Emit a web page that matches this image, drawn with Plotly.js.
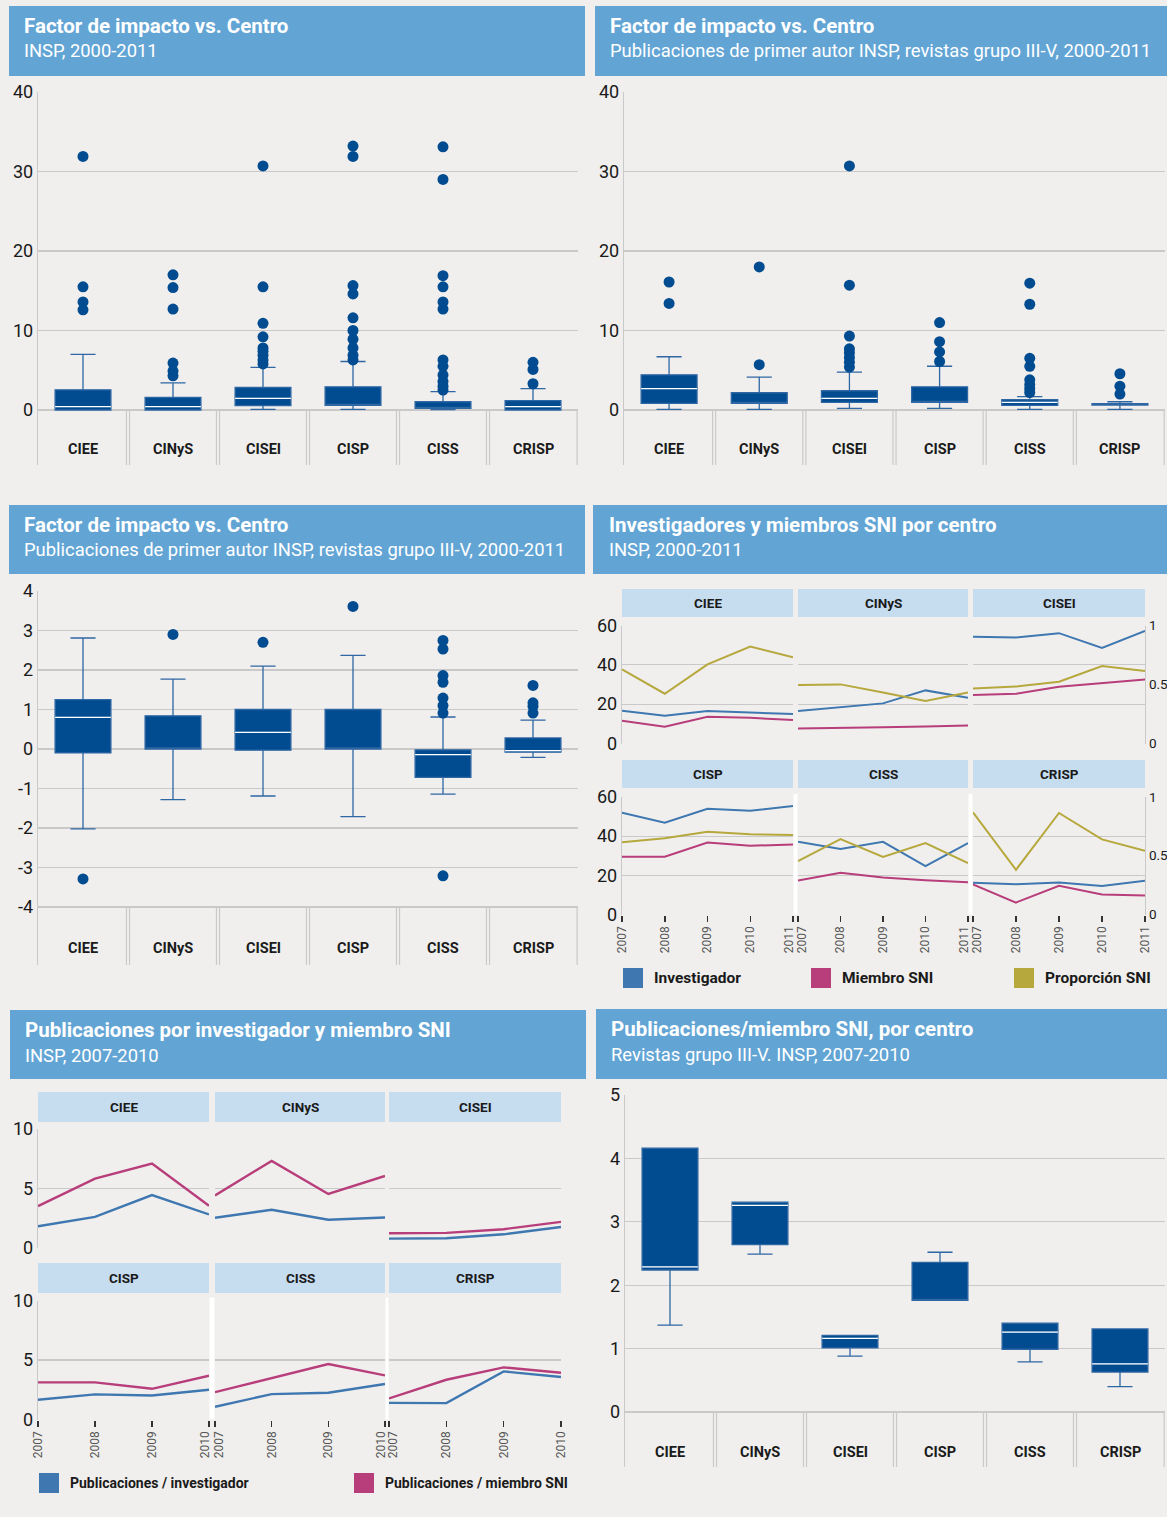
<!DOCTYPE html>
<html><head><meta charset="utf-8">
<script src="https://cdn.plot.ly/plotly-3.0.1.min.js"></script>
<style>html,body{margin:0;padding:0;background:#f0efed;} #chart{width:1167px;height:1517px;}</style>
</head><body><div id="chart"></div>
<script>
// ---------------- DATA ----------------
const centros = ['CIEE','CINyS','CISEI','CISP','CISS','CRISP'];

// Panel 1: Factor de impacto vs. Centro (INSP, 2000-2011)
const fi1_q1  = [0.0, 0.0, 0.54, 0.58, 0.2, 0.0];
const fi1_med = [0.42, 0.42, 1.46, 0.58, 0.2, 0.42];
const fi1_q3  = [2.54, 1.58, 2.83, 2.92, 1.04, 1.17];
const fi1_low = [0.0, 0.0, 0.08, 0.08, 0.05, 0.0];
const fi1_up  = [7.0, 3.4, 5.36, 6.1, 2.3, 2.7];
const fi1_out = [[31.9,15.5,13.6,12.6],[17.0,15.4,12.7,5.9,4.9,4.3],[30.7,15.5,10.9,9.2,7.8,7.4,6.9,6.3,5.8],[33.2,31.9,15.65,14.6,11.6,10.0,8.9,7.8,6.9,6.3],[33.1,29.0,16.9,15.5,13.6,12.7,6.3,5.5,4.4,3.6,3.0,2.5],[6.0,5.1,3.3]];

// Panel 2: Factor de impacto vs. Centro (primer autor, grupo III-V)
const fi2_q1  = [0.83, 0.83, 0.96, 0.96, 0.58, 0.62];
const fi2_med = [2.7, 0.83, 1.46, 0.96, 0.96, 0.62];
const fi2_q3  = [4.43, 2.17, 2.42, 2.92, 1.29, 0.8];
const fi2_low = [0.08, 0.08, 0.2, 0.2, 0.08, 0.08];
const fi2_up  = [6.7, 4.13, 4.77, 5.5, 1.67, 1.04];
const fi2_out = [[16.1,13.4],[18.0,5.7],[30.7,15.7,9.3,7.7,7.2,6.6,6.0,5.4],[11.0,8.6,7.3,6.1],[15.95,13.3,6.5,5.5,3.8,3.2,2.7,2.2],[4.56,3.0,2.0]];

// Panel 3: Factor de impacto (log) vs. Centro
const fi3_q1  = [-0.1, 0.0, -0.03, 0.0, -0.72, -0.08];
const fi3_med = [0.8, 0.0, 0.42, 0.0, -0.14, -0.04];
const fi3_q3  = [1.25, 0.84, 1.0, 1.0, -0.02, 0.28];
const fi3_low = [-2.02, -1.28, -1.19, -1.71, -1.14, -0.21];
const fi3_up  = [2.81, 1.77, 2.1, 2.37, 0.81, 0.73];
const fi3_out = [[-3.29],[2.9],[2.7],[3.61],[2.75,2.53,1.86,1.69,1.29,1.1,0.91,-3.21],[1.61,1.17,1.08,0.91]];

// Panel 6: Publicaciones/miembro SNI, por centro
const ps_q1  = [2.24, 2.64, 1.01, 1.76, 0.99, 0.63];
const ps_med = [2.29, 3.26, 1.16, 1.76, 1.26, 0.76];
const ps_q3  = [4.16, 3.31, 1.21, 2.36, 1.4, 1.31];
const ps_low = [1.37, 2.49, 0.88, 1.76, 0.79, 0.4];
const ps_up  = [4.16, 3.31, 1.21, 2.52, 1.4, 1.31];
const ps_out = [[],[],[],[],[],[]];

// Panel 4: Investigadores y miembros SNI por centro
const anios5 = [2007, 2008, 2009, 2010, 2011];
const investigador = [[16.7,14.1,16.5,15.6,15.0],[16.5,18.4,20.4,27.0,23.3],[54.3,53.9,56.1,48.6,57.3],[52.0,46.9,54.0,53.0,55.4],[37.1,33.4,37.1,24.7,36.5],[16.2,15.5,16.4,14.5,17.2]];
const miembroSNI   = [[11.6,8.5,13.6,13.1,11.9],[7.65,7.8,8.2,8.7,9.2],[24.7,25.3,28.9,30.8,32.5],[29.5,29.5,36.8,35.1,35.8],[17.4,21.3,18.9,17.5,16.5],[15.3,6.1,14.7,10.2,9.7]];
const proporcionSNI= [[0.629,0.422,0.671,0.822,0.731],[0.496,0.501,0.433,0.36,0.433],[0.467,0.482,0.524,0.657,0.615],[0.614,0.648,0.705,0.682,0.676],[0.455,0.642,0.489,0.608,0.438],[0.869,0.381,0.864,0.639,0.542]];

// Panel 5: Publicaciones por investigador y miembro SNI
const anios4 = [2007, 2008, 2009, 2010];
const pubInvestigador = [[1.83,2.62,4.45,2.82],[2.54,3.21,2.37,2.56],[0.79,0.82,1.15,1.77],[1.66,2.11,2.02,2.5],[1.07,2.13,2.25,2.98],[1.4,1.38,4.04,3.57]];
const pubMiembroSNI   = [[3.52,5.83,7.1,3.55],[4.42,7.32,4.54,6.06],[1.24,1.27,1.58,2.2],[3.12,3.12,2.58,3.68],[2.3,3.51,4.66,3.71],[1.77,3.34,4.38,3.93]];

// ---------------- STYLE / LAYOUT ----------------
const FONT = 'Roboto, "Noto Sans", sans-serif';
const BG='#f0efed', HEAD='#62a5d5', STRIP='#c6dcef', GRID='#c9c9c9', BOX='#014b90', WHISK='#2f67a4';
const C_INV='#3f77b1', C_SNI='#b83d7b', C_PROP='#b6a83d';
const W=1167, H=1517;
const fx = p => p/W, fy = p => 1 - p/H;

const layout = {width:W, height:H, margin:{l:0,r:0,t:0,b:0}, paper_bgcolor:BG, plot_bgcolor:'rgba(0,0,0,0)',
  showlegend:false, shapes:[], annotations:[], font:{family:FONT, color:'#1a1a1a'}, hovermode:false};
const traces = [];
let nx=0, ny=0;
function addX(o){ nx++; layout[nx===1?'xaxis':'xaxis'+nx]=o; return nx===1?'x':'x'+nx; }
function addY(o){ ny++; layout[ny===1?'yaxis':'yaxis'+ny]=o; return ny===1?'y':'y'+ny; }
function axObj(id){ return layout[id.length===1 ? id+'axis' : id[0]+'axis'+id.slice(1)]; }

function header(x0,x1,y0,y1,tx,title,sub){
  layout.shapes.push({type:'rect',xref:'paper',yref:'paper',x0:fx(x0),x1:fx(x1),y0:fy(y1),y1:fy(y0),fillcolor:HEAD,line:{width:0},layer:'below'});
  layout.annotations.push({xref:'paper',yref:'paper',x:fx(tx),y:fy(y0+20),xanchor:'left',yanchor:'middle',showarrow:false,
    text:'<b>'+title+'</b>',font:{size:20.5,color:'#ffffff',family:FONT}});
  layout.annotations.push({xref:'paper',yref:'paper',x:fx(tx),y:fy(y0+45),xanchor:'left',yanchor:'middle',showarrow:false,
    text:sub,font:{size:18.4,color:'#ffffff',family:FONT}});
}

function boxPanel(p){
  const unit = (p.refPx - p.topPx)/(p.topVal - p.refVal);
  const lo = p.refVal - (p.botPx - p.refPx)/unit;
  const labV = p.refVal - (p.labPx - p.refPx)/unit;
  const xid = addX({domain:[fx(p.x0),fx(p.x1)], type:'category', categoryarray:centros, categoryorder:'array',
    range:[-0.5,5.5], showticklabels:false, showgrid:false, zeroline:false, showline:false, ticks:'', fixedrange:true});
  const yid = addY({domain:[fy(p.botPx),fy(p.topPx)], range:[lo,p.topVal], tickvals:p.tickvals, ticktext:p.tickvals.map(String),
    showgrid:true, gridcolor:GRID, gridwidth:1.2, showline:true, linecolor:GRID, linewidth:1.2, zeroline:false,
    ticks:'', tickfont:{size:18,color:'#1a1a1a',family:FONT}, fixedrange:true});
  axObj(xid).anchor = yid; axObj(yid).anchor = xid;
  traces.push({type:'box', x:centros, q1:p.q1, median:p.med, q3:p.q3, lowerfence:p.low, upperfence:p.up,
    xaxis:xid, yaxis:yid, width:0.62, whiskerwidth:0.45, fillcolor:BOX, line:{color:WHISK,width:1.3}, boxpoints:false});
  const mx=[], my=[];
  p.med.forEach((m,i)=>{ if(m>p.q1[i]+1e-9 && m<p.q3[i]-1e-9){ mx.push(centros[i]); my.push(m);} });
  const bw = (p.x1-p.x0)/6*0.62;
  traces.push({type:'scatter', mode:'markers', x:mx, y:my, xaxis:xid, yaxis:yid,
    marker:{symbol:'line-ew-open', size:bw/1.4, color:'#ffffff', line:{color:'#ffffff', width:1.2}}});
  const ox=[], oy=[];
  p.out.forEach((arr,i)=>arr.forEach(v=>{ox.push(centros[i]); oy.push(v);}));
  if(ox.length) traces.push({type:'scatter', mode:'markers', x:ox, y:oy, xaxis:xid, yaxis:yid,
    marker:{color:BOX, size:11}, cliponaxis:false});
  for(let k=0;k<6;k++){
    const xs = k<5 ? [k+0.5-0.017, k+0.5+0.017] : [5.49];
    xs.forEach(xv=> layout.shapes.push({type:'line', xref:xid, yref:yid, x0:xv, x1:xv, y0:p.refVal, y1:lo,
      line:{color:GRID,width:1.2}, layer:'below'}));
    layout.annotations.push({xref:xid, yref:yid, x:centros[k], y:labV, text:'<b>'+centros[k]+'</b>', showarrow:false,
      xanchor:'center', yanchor:'middle', font:{size:14.5,color:'#1a1a1a',family:FONT}});
  }
}

function facetPanel(p){
  const ny0 = p.years.length-1;
  p.rows.forEach((r,ri)=>{
    p.cols.forEach((c,ci)=>{
      const idx = ri*3+ci;
      const last = ri===p.rows.length-1;
      const ttext = p.years.map((y,i)=> ((i===0 && ci>0) || (i===ny0 && ci<2)) ? '' : String(y));
      const xcommon = {domain:[fx(c[0]),fx(c[1])], range:[p.years[0], p.years[ny0]], tickangle:-90,
        tickfont:{size:12,color:'#555',family:FONT}, showgrid:false, zeroline:false, showline:false, fixedrange:true};
      const xid = addX(Object.assign({}, xcommon, {tickvals:p.years, ticktext:ttext,
        showticklabels:last, ticks:last?'outside':'', ticklen:6, tickwidth:1.5, tickcolor:'#333'}));
      const yid = addY({domain:[fy(r.pb),fy(r.pt)], range:p.yrange, tickvals:p.yticks, showgrid:true, gridcolor:GRID, gridwidth:1.2,
        showticklabels:ci===0, showline:ci===0, linecolor:GRID, linewidth:1.2, zeroline:false, ticks:'',
        tickfont:{size:18,color:'#1a1a1a',family:FONT}, fixedrange:true});
      axObj(xid).anchor = yid; axObj(yid).anchor = xid;
      if(last){
        // end-of-facet year labels, nudged inward so neighbouring facets do not collide
        const ends = [];
        if(ci>0) ends.push([p.years[0], 4]);
        if(ci<2) ends.push([p.years[ny0], -4]);
        ends.forEach(e=>{
          const xo = addX(Object.assign({}, xcommon, {overlaying:xid, anchor:yid, side:'bottom', tickvals:[e[0]], ticktext:[String(e[0])],
            ticks:'outside', ticklen:6, tickcolor:'rgba(0,0,0,0)', ticklabelshift:e[1]}));
          traces.push({type:'scatter', mode:'markers', x:[e[0]], y:[null], xaxis:xo, yaxis:yid, marker:{opacity:0}});
        });
      }
      p.series.forEach(s=>{
        if(s.right) return;
        traces.push({type:'scatter', mode:'lines', x:p.years, y:s.data[idx], xaxis:xid, yaxis:yid,
          line:{color:s.color, width:s.width}});
      });
      if(p.series.some(s=>s.right)){
        const y2 = addY({overlaying:yid, anchor:xid, side:'right', domain:[fy(r.pb),fy(r.pt)], range:p.y2range, tickvals:p.y2ticks,
          showgrid:false, zeroline:false, showticklabels:ci===2, showline:ci===2, linecolor:GRID, linewidth:1.2, ticks:'',
          tickfont:{size:13.5,color:'#1a1a1a',family:FONT}, fixedrange:true});
        p.series.forEach(s=>{
          if(!s.right) return;
          traces.push({type:'scatter', mode:'lines', x:p.years, y:s.data[idx], xaxis:xid, yaxis:y2,
            line:{color:s.color, width:s.width}});
        });
      }
      layout.shapes.push({type:'rect',xref:'paper',yref:'paper',x0:fx(c[0]),x1:fx(c[1]),y0:fy(r.sb),y1:fy(r.st),
        fillcolor:STRIP,line:{width:0},layer:'below'});
      layout.annotations.push({xref:'paper',yref:'paper',x:fx((c[0]+c[1])/2),y:fy((r.st+r.sb)/2),text:'<b>'+centros[idx]+'</b>',
        showarrow:false,xanchor:'center',yanchor:'middle',font:{size:13.5,color:'#1a1a1a',family:FONT}});
    });
  });
  // white gaps between facets in bottom row
  const r = p.rows[p.rows.length-1];
  for(let ci=0;ci<2;ci++){
    layout.shapes.push({type:'rect',xref:'paper',yref:'paper',x0:fx(p.cols[ci][1]+0.5),x1:fx(p.cols[ci+1][0]-0.5),
      y0:fy(r.pb),y1:fy(r.pt-3),fillcolor:'#ffffff',line:{width:0},layer:'below'});
  }
  p.legend.forEach(l=>{
    layout.shapes.push({type:'rect',xref:'paper',yref:'paper',x0:fx(l.x),x1:fx(l.x+20),y0:fy(p.legY+10),y1:fy(p.legY-10),
      fillcolor:l.color,line:{width:0}});
    layout.annotations.push({xref:'paper',yref:'paper',x:fx(l.x+29),y:fy(p.legY),text:'<b>'+l.text+'</b>',showarrow:false,
      xanchor:'left',yanchor:'middle',font:{size:p.legSize,color:'#1a1a1a',family:FONT}});
  });
}

// Headers
header(9,585,6,76,22,'Factor de impacto vs. Centro','INSP, 2000-2011');
header(595,1167,6,76,608,'Factor de impacto vs. Centro','Publicaciones de primer autor INSP, revistas grupo III-V, 2000-2011');
header(9,585,505,574,22,'Factor de impacto vs. Centro','Publicaciones de primer autor INSP, revistas grupo III-V, 2000-2011');
header(593,1167,505,574,607,'Investigadores y miembros SNI por centro','INSP, 2000-2011');
header(10,586,1010,1079,23,'Publicaciones por investigador y miembro SNI','INSP, 2007-2010');
header(596,1167,1009,1079,609,'Publicaciones/miembro SNI, por centro','Revistas grupo III-V. INSP, 2007-2010');

boxPanel({x0:38,x1:578,topVal:40,topPx:92,refVal:0,refPx:410,botPx:465,labPx:449,tickvals:[0,10,20,30,40],
  q1:fi1_q1,med:fi1_med,q3:fi1_q3,low:fi1_low,up:fi1_up,out:fi1_out});
boxPanel({x0:624,x1:1165,topVal:40,topPx:92,refVal:0,refPx:410,botPx:465,labPx:449,tickvals:[0,10,20,30,40],
  q1:fi2_q1,med:fi2_med,q3:fi2_q3,low:fi2_low,up:fi2_up,out:fi2_out});
boxPanel({x0:38,x1:578,topVal:4,topPx:591,refVal:-4,refPx:907,botPx:965,labPx:948,tickvals:[-4,-3,-2,-1,0,1,2,3,4],
  q1:fi3_q1,med:fi3_med,q3:fi3_q3,low:fi3_low,up:fi3_up,out:fi3_out});
boxPanel({x0:625,x1:1165,topVal:5,topPx:1095,refVal:0,refPx:1412,botPx:1467,labPx:1452,tickvals:[0,1,2,3,4,5],
  q1:ps_q1,med:ps_med,q3:ps_q3,low:ps_low,up:ps_up,out:ps_out});

facetPanel({cols:[[622,793],[798,968],[973,1145]],
  rows:[{st:589,sb:617,pt:625.5,pb:743.5},{st:760,sb:788,pt:797,pb:914.5}],
  years:anios5, yrange:[0,60], yticks:[0,20,40,60], y2range:[0,1], y2ticks:[0,0.5,1],
  series:[{data:investigador,color:C_INV,width:2},{data:miembroSNI,color:C_SNI,width:2},{data:proporcionSNI,color:C_PROP,width:2,right:true}],
  legY:978, legSize:15.5, legend:[{x:623,color:C_INV,text:'Investigador'},{x:811,color:C_SNI,text:'Miembro SNI'},{x:1014,color:C_PROP,text:'Proporción SNI'}]});

facetPanel({cols:[[38,209],[215,385],[389,561]],
  rows:[{st:1092,sb:1122,pt:1129,pb:1248},{st:1263,sb:1293,pt:1300.5,pb:1419.5}],
  years:anios4, yrange:[0,10], yticks:[0,5,10],
  series:[{data:pubInvestigador,color:C_INV,width:2.4},{data:pubMiembroSNI,color:C_SNI,width:2.4}],
  legY:1483, legSize:14, legend:[{x:39,color:C_INV,text:'Publicaciones / investigador'},{x:354,color:C_SNI,text:'Publicaciones / miembro SNI'}]});

Plotly.newPlot('chart', traces, layout, {staticPlot:true, displayModeBar:false});
</script>
</body></html>
